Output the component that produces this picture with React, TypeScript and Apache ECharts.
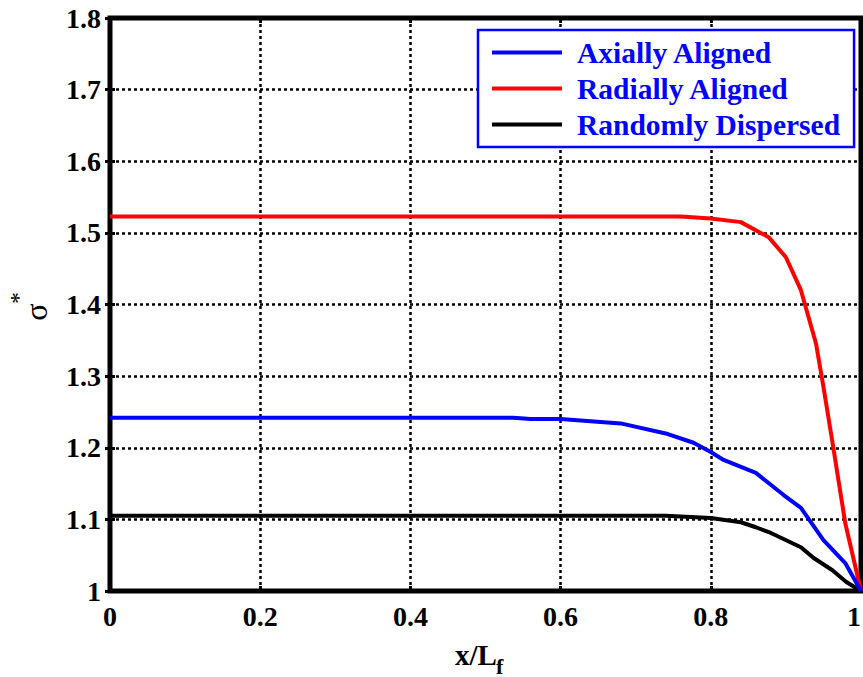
import React, { useEffect, useRef } from "react";
import * as echarts from "echarts";

const seriesNames = ["Axially Aligned", "Radially Aligned", "Randomly Dispersed"];
const seriesColors = ["#0000ff", "#ff0000", "#000000"];

const axialX = [0, 0.537, 0.56, 0.6, 0.64, 0.68, 0.74, 0.777, 0.8, 0.817, 0.86, 0.897, 0.92, 0.95, 0.979, 1.0];
const axialY = [1.242, 1.242, 1.24, 1.24, 1.237, 1.234, 1.22, 1.207, 1.194, 1.183, 1.165, 1.134, 1.116, 1.071, 1.039, 1.0];

const radialX = [0, 0.76, 0.8, 0.84, 0.877, 0.9, 0.92, 0.94, 0.95, 0.963, 0.979, 1.0];
const radialY = [1.523, 1.523, 1.52, 1.515, 1.494, 1.466, 1.42, 1.346, 1.285, 1.201, 1.095, 1.0];

const randomX = [0, 0.74, 0.8, 0.84, 0.86, 0.88, 0.92, 0.937, 0.962, 0.98, 1.0];
const randomY = [1.105, 1.105, 1.102, 1.096, 1.089, 1.081, 1.061, 1.046, 1.029, 1.013, 1.0];

const FONT = "Liberation Serif, serif";

function pairs(xs: number[], ys: number[]) {
  return xs.map((x, i) => [x, ys[i]]);
}

export default function App() {
  const ref = useRef<HTMLDivElement>(null);
  useEffect(() => {
    if (!ref.current) return;
    const chart = echarts.init(ref.current, null, { renderer: "svg" });
    const gridLine = { show: true, lineStyle: { color: "#000", width: 2.5, type: [3, 3] as any } };
    const tick = { show: true, inside: true, length: 5, lineStyle: { color: "#000", width: 3 } };
    const labelStyle = { color: "#000", fontFamily: FONT, fontWeight: "bold" as const, fontSize: 28 };
    const datas = [pairs(axialX, axialY), pairs(radialX, radialY), pairs(randomX, randomY)];
    chart.setOption({
      animation: false,
      backgroundColor: "#fff",
      grid: {
        left: 110,
        right: 2,
        top: 18,
        bottom: 86,
        outerBoundsMode: "none",
        containLabel: false,
        show: true,
        borderColor: "#000",
        borderWidth: 5,
        backgroundColor: "transparent",
      },
      xAxis: [
        {
          type: "value",
          min: 0,
          max: 1,
          interval: 0.2,
          axisLine: { show: false },
          axisTick: tick,
          splitLine: gridLine,
          axisLabel: {
            ...labelStyle,
            margin: 11,
            alignMaxLabel: "right",
            formatter: (v: number) => String(Math.round(v * 10) / 10),
          },
        },
        {
          type: "value",
          position: "top",
          min: 0,
          max: 1,
          interval: 0.2,
          axisLine: { show: false },
          axisTick: tick,
          splitLine: { show: false },
          axisLabel: { show: false },
        },
      ],
      yAxis: [
        {
          type: "value",
          min: 1,
          max: 1.8,
          interval: 0.1,
          axisLine: { show: false },
          axisTick: tick,
          splitLine: gridLine,
          axisLabel: { ...labelStyle, margin: 9, formatter: (v: number) => String(Math.round(v * 10) / 10) },
        },
        {
          type: "value",
          position: "right",
          min: 1,
          max: 1.8,
          interval: 0.1,
          axisLine: { show: false },
          axisTick: tick,
          splitLine: { show: false },
          axisLabel: { show: false },
        },
      ],
      legend: {
        orient: "vertical",
        left: 478,
        top: 30,
        backgroundColor: "#fff",
        borderColor: "#0000ff",
        borderWidth: 2.5,
        borderRadius: 0,
        padding: [6, 14, 6, 14],
        itemGap: 3,
        itemWidth: 70,
        itemHeight: 4,
        icon: "rect",
        data: seriesNames,
        textStyle: {
          color: "#0000ff",
          fontFamily: FONT,
          fontWeight: "bold",
          fontSize: 29.5,
          lineHeight: 33,
          padding: [0, 0, 0, 10],
        },
      },
      graphic: [
        {
          type: "text",
          x: 36,
          y: 312,
          rotation: Math.PI / 2,
          style: {
            text: "σ",
            fontFamily: FONT,
            fontSize: 32,
            fill: "#000",
            textAlign: "center",
            textVerticalAlign: "middle",
          },
        },
        {
          type: "text",
          x: 18,
          y: 298,
          rotation: Math.PI / 2,
          style: {
            text: "*",
            fontFamily: FONT,
            fontSize: 24,
            fill: "#000",
            textAlign: "center",
            textVerticalAlign: "middle",
          },
        },
        {
          type: "text",
          x: 476,
          y: 655,
          style: {
            text: "x/L",
            fontFamily: FONT,
            fontWeight: "bold",
            fontSize: 29,
            fill: "#000",
            textAlign: "center",
            textVerticalAlign: "middle",
          },
        },
        {
          type: "text",
          x: 496,
          y: 666,
          style: {
            text: "f",
            fontFamily: FONT,
            fontWeight: "bold",
            fontSize: 22,
            fill: "#000",
            textAlign: "left",
            textVerticalAlign: "middle",
          },
        },
      ],
      series: seriesNames.map((name, i) => ({
        name,
        type: "line",
        data: datas[i],
        showSymbol: false,
        symbol: "none",
        smooth: false,
        lineStyle: { color: seriesColors[i], width: 4 },
        itemStyle: { color: seriesColors[i] },
        z: 3 + (2 - i),
      })),
    });
    return () => chart.dispose();
  }, []);
  return <div ref={ref} style={{ width: 863, height: 677, position: "absolute", left: 0, top: 0 }} />;
}
